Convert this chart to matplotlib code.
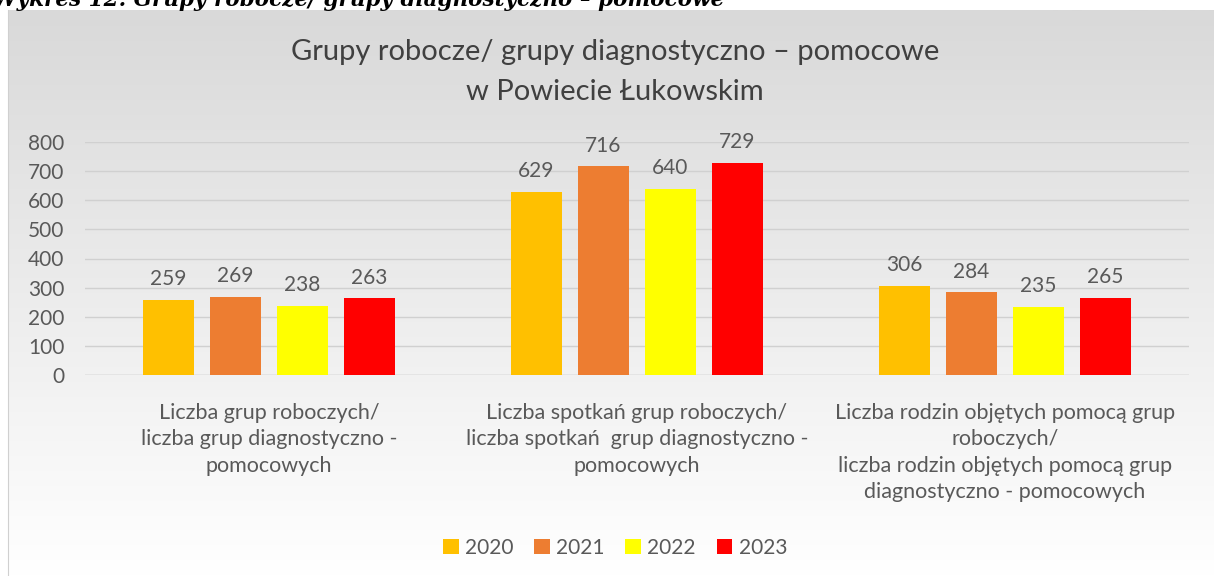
import numpy as np
import matplotlib.pyplot as plt

lata = ['2020', '2021', '2022', '2023']
kategorie = ['Liczba grup roboczych/\nliczba grup diagnostyczno -\npomocowych',
             'Liczba spotkań grup roboczych/\nliczba spotkań  grup diagnostyczno -\npomocowych',
             'Liczba rodzin objętych pomocą grup\nroboczych/\nliczba rodzin objętych pomocą grup\ndiagnostyczno - pomocowych']
wartosci = {
    '2020': [259, 629, 306],
    '2021': [269, 716, 284],
    '2022': [238, 640, 235],
    '2023': [263, 729, 265],
}
kolory = ['#FFC000', '#ED7D31', '#FFFF00', '#FF0000']

plt.rcParams['font.family'] = ['Lato', 'DejaVu Sans']
szary = '#595959'

fig = plt.figure(figsize=(12.14, 5.76), dpi=100)

# tlo z gradientem
bg = fig.add_axes([8/1214, 0, 1 - 8/1214, 566/576])
grad = np.linspace(0, 1, 256).reshape(-1, 1)
bg.imshow(grad, aspect='auto', cmap=plt.matplotlib.colors.LinearSegmentedColormap.from_list(
    'g', ['#d9d9d9', '#ffffff']), extent=[0, 1, 0, 1], origin='upper')
bg.set_xticks([]); bg.set_yticks([])
for s in ['top', 'right', 'bottom']:
    bg.spines[s].set_visible(False)
bg.spines['left'].set_color('#d0d0d0')

# podpis wykresu - w oryginale uciety u gory
fig.text(-0.006, 1.0, 'Wykres 12. Grupy robocze/ grupy diagnostyczno – pomocowe',
         family=['DejaVu Serif'], style='italic', weight='bold', fontsize=15.5,
         va='center', ha='left', color='black')

ax = fig.add_axes([85/1214, 201/576, (1189 - 85)/1214, (375 - 142)/576])
ax.patch.set_alpha(0)
x = np.arange(len(kategorie))
krok = 0.182
szer = 0.141
for i, rok in enumerate(lata):
    pos = x + (i - 1.5) * krok
    bars = ax.bar(pos, wartosci[rok], szer, color=kolory[i], label=rok, zorder=3)
    for b, v in zip(bars, wartosci[rok]):
        ax.text(b.get_x() + b.get_width()/2, v + 36, str(v), ha='center', va='bottom',
                fontsize=15, color=szary, clip_on=False)

ax.set_xlim(-0.5, 2.5)
ax.set_ylim(0, 800)
ax.set_yticks(range(0, 801, 100))
ax.grid(axis='y', color='#d0d0d0', linewidth=1, zorder=0)
for s in ax.spines.values():
    s.set_visible(False)
ax.axhline(0, color='#d0d0d0', linewidth=1, zorder=2)
ax.tick_params(axis='y', length=0, labelsize=15, labelcolor=szary, pad=15)
ax.set_xticks(x)
ax.set_xticklabels(kategorie, fontsize=15.5, color=szary, linespacing=1.4, va='top')
ax.tick_params(axis='x', length=0, pad=20)

fig.text(615/1214, 1 - 52/576, 'Grupy robocze/ grupy diagnostyczno – pomocowe',
         ha='center', va='center', fontsize=21, color='#404040')
fig.text(615/1214, 1 - 92/576, 'w Powiecie Łukowskim',
         ha='center', va='center', fontsize=21, color='#404040')

fig.legend(loc='center', bbox_to_anchor=(615/1214, 1 - 548/576), ncol=4, frameon=False,
           fontsize=15, labelcolor=szary, handlelength=0.75, handleheight=0.75,
           handletextpad=0.3, columnspacing=1.0)

fig.savefig('out.png', dpi=100)
